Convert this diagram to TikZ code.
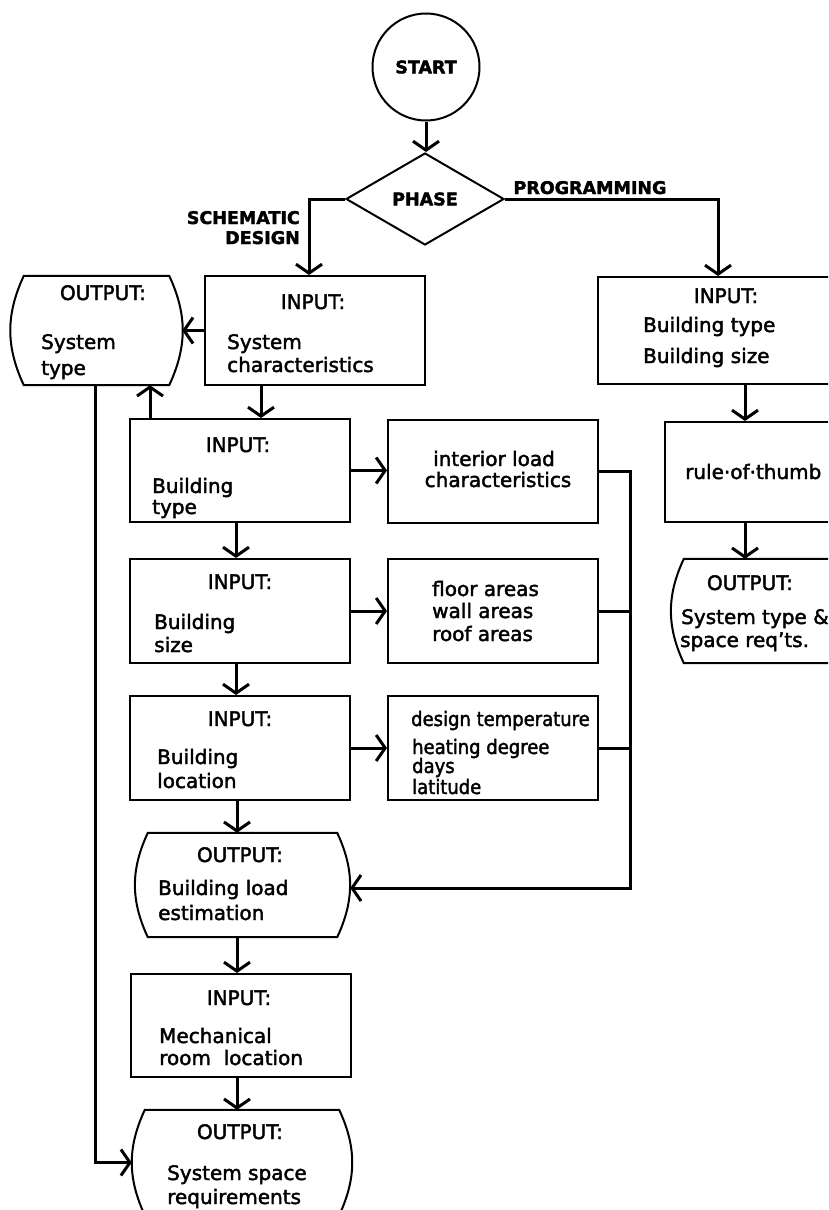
\documentclass[tikz,border=0pt]{standalone}
\usepackage{fontspec}
\setmainfont[FakeBold=2]{DejaVu Sans}
\usepackage{graphicx}
\usetikzlibrary{shapes.geometric,arrows.meta,calc}
\tikzset{
  boxline/.style={line width=2pt},
  box/.style={draw,boxline,inner sep=0pt,rectangle},
  outp/.style={inner sep=0pt,rectangle},
  arr/.style={line width=3pt,-{Straight Barb[length=9pt,width=26pt]}},
  link/.style={line width=3pt},
  txt/.style={inner sep=0pt,font=\fontsize{20}{24}\selectfont},
  ttl/.style={inner sep=0pt,font=\fontsize{17.5}{20}\selectfont\bfseries},
}
\newcommand\drawout[2][13]{%
  \draw[boxline] ([xshift=#1]#2.north west) -- ([xshift=-#1]#2.north east)
    to[out=-65,in=65] ([xshift=-#1]#2.south east) -- ([xshift=#1]#2.south west)
    to[out=115,in=-115] ([xshift=#1]#2.north west) -- cycle;}
\begin{document}
\begin{tikzpicture}[x=1pt,y=1pt]
\useasboundingbox (0,0) rectangle (828,-1210);
\fill[white] (0,0) rectangle (828,-1210);
\clip (0,0) rectangle (828,-1210);

% nodes
\node[draw,boxline,circle,minimum size=107,inner sep=0pt,ttl] (start) at (426,-67) {START};
\node[draw,boxline,diamond,minimum width=158,minimum height=92,inner sep=0pt,ttl] (phase) at (425,-199) {PHASE};
\node[box,minimum width=220,minimum height=109] (sysc) at (315,-330.5) {};
\node[outp,minimum width=171,minimum height=109] (outst) at (96.5,-330.5) {};
\node[box,minimum width=294,minimum height=107] (rin) at (745,-330.5) {};
\node[box,minimum width=185,minimum height=100] (rule) at (757.5,-472) {};
\node[outp,minimum width=180,minimum height=104] (routp) at (758,-611) {};
\node[box,minimum width=220,minimum height=103] (btype) at (240,-470.5) {};
\node[box,minimum width=210,minimum height=103] (intl) at (493,-471.5) {};
\node[box,minimum width=220,minimum height=104] (bsize) at (240,-611) {};
\node[box,minimum width=210,minimum height=104] (areas) at (493,-611) {};
\node[box,minimum width=220,minimum height=104] (bloc) at (240,-748) {};
\node[box,minimum width=210,minimum height=104] (dtemp) at (493,-748) {};
\node[outp,minimum width=215,minimum height=104] (bload) at (242.5,-885) {};
\node[box,minimum width=220,minimum height=103] (mech) at (241,-1025.5) {};
\node[outp,minimum width=220,minimum height=105] (sspace) at (242,-1162.5) {};
\coordinate (bus) at (630,0);

\drawout{outst}
\drawout[16]{routp}
\drawout{bload}
\drawout{sspace}

% texts
\node[ttl,anchor=base] (lprog) at (590,-194) {PROGRAMMING};
\node[ttl,anchor=base east] (lsch1) at (300,-224) {SCHEMATIC};
\node[ttl,anchor=base east] (lsch2) at (300,-244) {DESIGN};

\node[txt,anchor=base] (a1) at (313,-309) {INPUT:};
\node[txt,anchor=base west] (a2) at (227,-349) {System};
\node[txt,anchor=base west] (a3) at (227,-372) {characteristics};

\node[txt,anchor=base] (b1) at (103,-300) {OUTPUT:};
\node[txt,anchor=base west] (b2) at (41,-349) {System};
\node[txt,anchor=base west] (b3) at (41,-375) {type};

\node[txt,anchor=base] (c1) at (726,-303) {INPUT:};
\node[txt,anchor=base west] (c2) at (643,-332) {Building type};
\node[txt,anchor=base west] (c3) at (643,-363) {Building size};

\node[txt,anchor=base west] (d1) at (685,-479) {rule·of·thumb};

\node[txt,anchor=base] (e1) at (750,-590) {OUTPUT:};
\node[txt,anchor=base west] (e2) at (681,-624) {System type \&};
\node[txt,anchor=base west] (e3) at (680,-647) {space req’ts.};

\node[txt,anchor=base] (f1) at (238,-452) {INPUT:};
\node[txt,anchor=base west] (f2) at (152,-493) {Building};
\node[txt,anchor=base west] (f3) at (152,-514) {type};

\node[txt,anchor=base] (g1) at (494,-466) {interior load};
\node[txt,anchor=base] (g2) at (498,-487) {characteristics};

\node[txt,anchor=base] (h1) at (240,-589) {INPUT:};
\node[txt,anchor=base west] (h2) at (154,-629) {Building};
\node[txt,anchor=base west] (h3) at (154,-652) {size};

\node[txt,anchor=base west] (i1) at (432,-596) {floor areas};
\node[txt,anchor=base west] (i2) at (432,-618) {wall areas};
\node[txt,anchor=base west] (i3) at (432,-641) {roof areas};

\node[txt,anchor=base] (j1) at (240,-726) {INPUT:};
\node[txt,anchor=base west] (j2) at (157,-764) {Building};
\node[txt,anchor=base west] (j3) at (157,-788) {location};

\node[txt,anchor=base west] (k1) at (411,-726) {\scalebox{0.9}[1]{design temperature}};
\node[txt,anchor=base west] (k2) at (412,-754) {\scalebox{0.9}[1]{heating degree}};
\node[txt,anchor=base west] (k3) at (412,-773) {\scalebox{0.9}[1]{days}};
\node[txt,anchor=base west] (k4) at (412,-794) {\scalebox{0.9}[1]{latitude}};

\node[txt,anchor=base] (l1) at (240,-862) {OUTPUT:};
\node[txt,anchor=base west] (l2) at (158,-895) {Building load};
\node[txt,anchor=base west] (l3) at (158,-920) {estimation};

\node[txt,anchor=base] (m1) at (239,-1005) {INPUT:};
\node[txt,anchor=base west] (m2) at (159,-1043) {Mechanical};
\node[txt,anchor=base west] (m3) at (159,-1065) {room~ location};

\node[txt,anchor=base] (n1) at (240,-1139) {OUTPUT:};
\node[txt,anchor=base west] (n2) at (167,-1180) {System space};
\node[txt,anchor=base west] (n3) at (167,-1204) {requirements};

% connectors
\draw[arr] (start.south) -- (start.south |- phase.north);
\draw[arr] (phase.west) -| ([xshift=-6]sysc.north);
\draw[arr] (phase.east) -| ([xshift=-27]rin.north);
\draw[arr] (sysc.west) -- (outst.east);
\draw[arr] ([xshift=-54]sysc.south) -- ([xshift=-54]sysc.south |- btype.north);
\draw[arr] ([xshift=53.5]outst.south |- btype.north) -- ([xshift=53.5]outst.south);
\draw[arr] ([xshift=-1.5]outst.south) |- (sspace.west);
\draw[arr] (btype.east) -- (btype.east -| intl.west);
\draw[arr] (bsize.east) -- (areas.west);
\draw[arr] (bloc.east) -- (dtemp.west);
\draw[arr] ([xshift=-4]btype.south) -- ([xshift=-4]bsize.north);
\draw[arr] ([xshift=-4]bsize.south) -- ([xshift=-4]bloc.north);
\draw[arr] ([xshift=-3]bloc.south) -- ([xshift=-3]bloc.south |- bload.north);
\draw[arr] ([xshift=-5.5]bload.south) -- ([xshift=-5.5]bload.south |- mech.north);
\draw[arr] ([xshift=-4]mech.south) -- ([xshift=-4]mech.south |- sspace.north);
\draw[arr] (intl.east) -- (intl.east -| bus) |- ([yshift=-3]bload.east);
\draw[link] (areas.east) -- (areas.east -| bus);
\draw[link] (dtemp.east) -- (dtemp.east -| bus);
\draw[arr] (rin.south) -- (rin.south |- rule.north);
\draw[arr] (rin.south |- rule.south) -- (rin.south |- routp.north);
\end{tikzpicture}
\end{document}
